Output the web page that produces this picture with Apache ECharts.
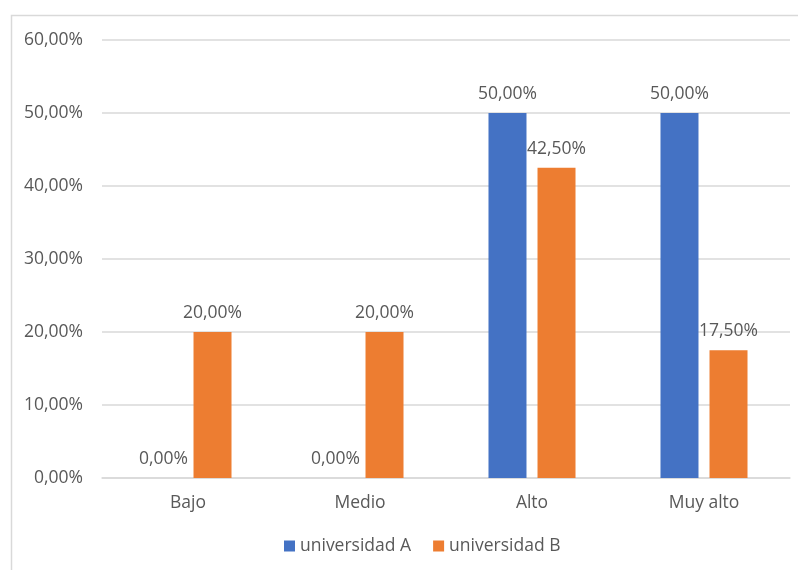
<!DOCTYPE html>
<html>
<head>
<meta charset="utf-8">
<script src="https://cdn.jsdelivr.net/npm/echarts@6/dist/echarts.min.js"></script>
<style>
	html, body { margin: 0; padding: 0; background: #fff; }
	#chart { width: 798px; height: 570px; }
</style>
</head>
<body>
<div id="chart"></div>
<script>
// 数据
const categories = ['Bajo', 'Medio', 'Alto', 'Muy alto'];
const seriesNames = ['universidad A', 'universidad B'];
const valuesA = [0, 0, 50, 50];
const valuesB = [20, 20, 42.5, 17.5];
const yTicks = [0, 10, 20, 30, 40, 50, 60];

const textColor = '#595959';
const fontFamily = '"Open Sans", "Noto Sans", sans-serif';
const fs = 17.5;

function pct(v) {
	return v.toFixed(2).replace('.', ',') + '%';
}

let chart = echarts.init(document.getElementById('chart'));
let option = {
	animation: false,
	textStyle: { fontFamily: fontFamily },
	color: ['#4472C4', '#ED7D31'],
	graphic: [
		{
			type: 'rect',
			shape: { x: 11.5, y: 15.5, width: 800, height: 600 },
			style: { fill: 'none', stroke: '#d9d9d9', lineWidth: 1.5 },
			z: -1,
		},
	],
	grid: { left: 102, right: 8, top: 40, bottom: 92 },
	legend: {
		data: seriesNames,
		bottom: 10,
		left: 279,
		icon: 'rect',
		itemWidth: 11,
		itemHeight: 11,
		itemGap: 22,
		textStyle: { color: textColor, fontSize: fs, fontFamily: fontFamily },
	},
	xAxis: {
		type: 'category',
		data: categories,
		axisTick: { show: false },
		axisLine: { lineStyle: { color: '#d9d9d9', width: 1.5 } },
		axisLabel: { color: textColor, fontSize: fs, margin: 16 },
	},
	yAxis: {
		type: 'value',
		min: yTicks[0],
		max: yTicks[yTicks.length - 1],
		interval: 10,
		axisLine: { show: false },
		axisTick: { show: false },
		splitLine: { lineStyle: { color: '#d9d9d9', width: 1.5 } },
		axisLabel: {
			color: textColor,
			fontSize: fs,
			margin: 19,
			formatter: (v) => pct(v),
		},
	},
	series: [valuesA, valuesB].map((vals, i) => ({
		name: seriesNames[i],
		type: 'bar',
		data: vals,
		barWidth: 38,
		barGap: '29%',
		label: {
			show: true,
			position: 'top',
			distance: 10,
			color: textColor,
			fontSize: fs,
			formatter: (p) => pct(p.value),
		},
	})),
};
chart.setOption(option);
</script>
</body>
</html>
